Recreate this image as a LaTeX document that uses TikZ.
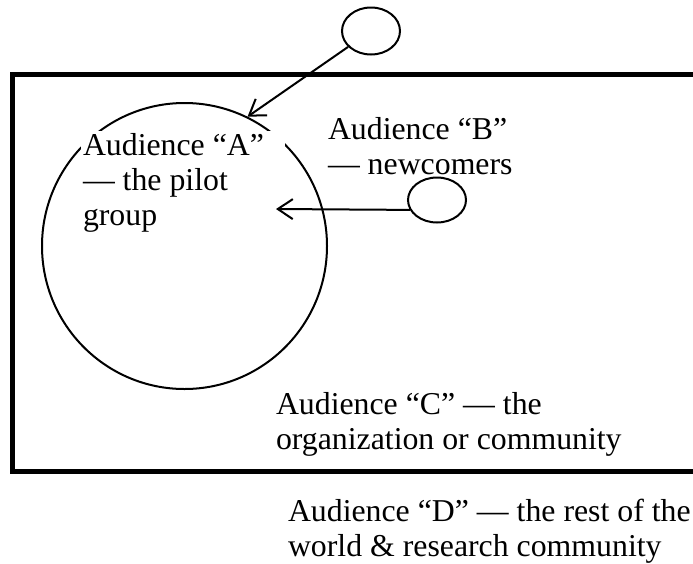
\documentclass[tikz,border=0pt]{standalone}
\usepackage{fontspec}
\setmainfont{Liberation Serif}
\usetikzlibrary{arrows.meta,shapes.geometric}
\begin{document}
\begin{tikzpicture}[x=1pt, y=-1pt, line width=2pt,
    every node/.style={font=\fontsize{31.8}{35}\selectfont},
    >={Straight Barb[length=15pt,width=20pt]}]

    % Fixed page area
    \useasboundingbox (0,0) rectangle (693,563);

    % Frame for the organization (open on the right)
    \draw[line width=5pt] (700,74.5) -| (12.5,471.5) -- (700,471.5);

    % Ellipse for the pilot group
    \node (audA) [draw, ellipse, minimum width=285pt, minimum height=286pt, inner sep=0] at (184.5,246) {};

    % Small circles
    \node (circTop) [draw, ellipse, minimum width=58pt, minimum height=47pt] at (371,31) {};
    \node (circB) [draw, ellipse, minimum width=58pt, minimum height=45pt] at (437,200) {};

    % Labels
    \node (txtA) [anchor=north west, fill=white, inner sep=2pt, text width=200pt, align=flush left] at (80,130)
    {Audience “A”\\— the pilot\\group};
    \node (txtB) [anchor=north west, inner sep=0, align=flush left] at (327,116)
    {Audience “B”\\— newcomers};
    \node (txtC) [anchor=north west, inner sep=0, align=flush left] at (275,391)
    {Audience “C” — the\\organization or community};
    \node (txtD) [anchor=north west, inner sep=0, align=flush left] at (287,498)
    {Audience “D” — the rest of the\\world \& research community};

    % Arrows into the pilot group
    \coordinate (tipB) at (276,209);
    \draw[->] (circTop) -- (audA.64);
    \draw[->] (circB.200) -- (tipB);

\end{tikzpicture}
\end{document}
